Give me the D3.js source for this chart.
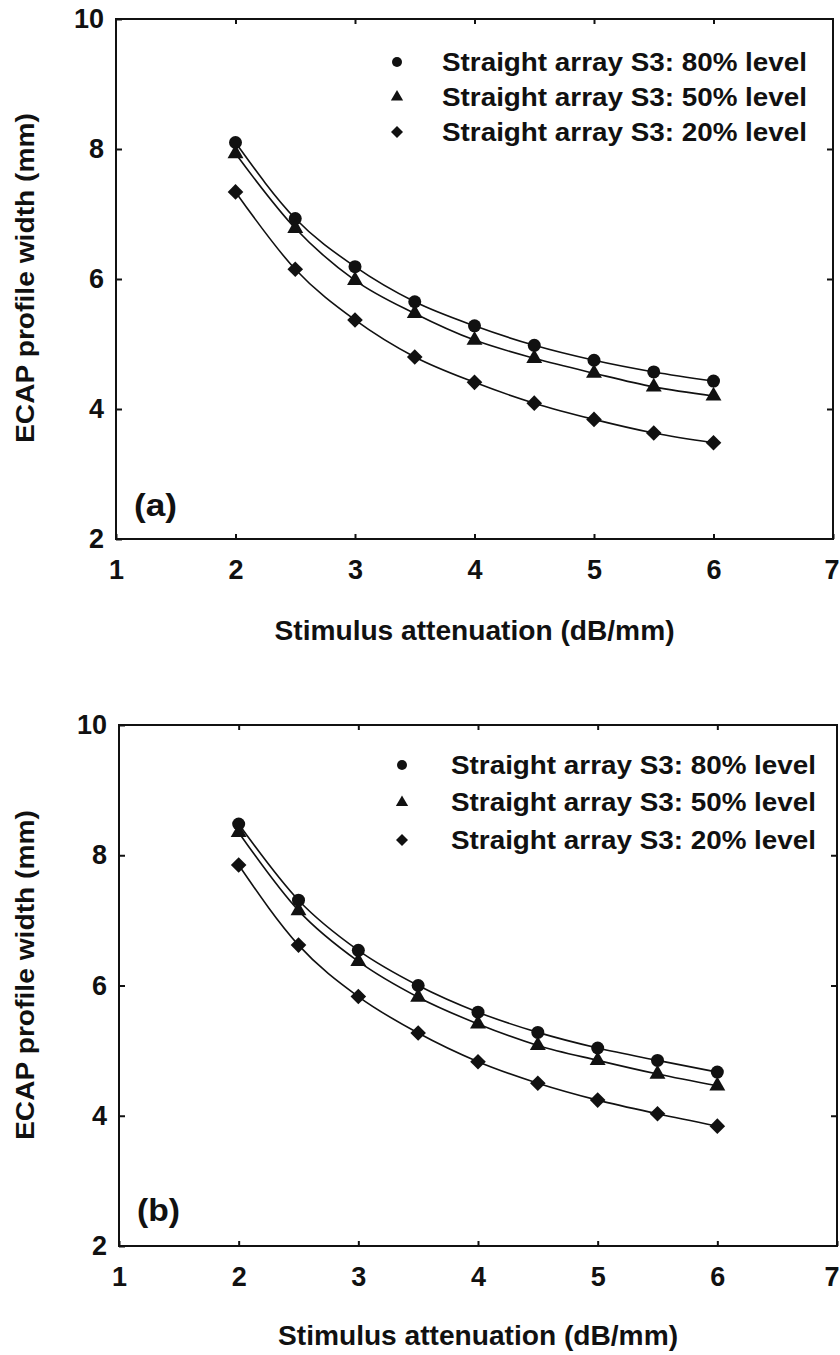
<!DOCTYPE html>
<html>
<head>
<meta charset="utf-8">
<script src="https://cdn.jsdelivr.net/npm/d3@7"></script>
<style>
  html, body { margin: 0; padding: 0; background: #fff; }
  svg { display: block; font-family: "Liberation Sans", Arial, sans-serif; }
  text { font-weight: bold; fill: #111; }
</style>
</head>
<body>
<div id="chart"></div>
<script>
// attenuation values (x)
var attenuation = [2, 2.5, 3, 3.5, 4, 4.5, 5, 5.5, 6];
var seriesNames = ['Straight array S3: 80% level', 'Straight array S3: 50% level', 'Straight array S3: 20% level'];
var seriesSymbols = ['circle', 'triangle', 'diamond'];

// panel (a)
var a80 = [8.10, 6.93, 6.19, 5.65, 5.28, 4.98, 4.75, 4.57, 4.43];
var a50 = [7.93, 6.78, 5.98, 5.47, 5.06, 4.78, 4.55, 4.34, 4.20];
var a20 = [7.34, 6.15, 5.37, 4.80, 4.41, 4.09, 3.84, 3.63, 3.48];

// panel (b)
var b80 = [8.48, 7.31, 6.54, 6.00, 5.59, 5.28, 5.04, 4.85, 4.67];
var b50 = [8.35, 7.15, 6.37, 5.82, 5.41, 5.08, 4.85, 4.64, 4.46];
var b20 = [7.85, 6.62, 5.83, 5.27, 4.83, 4.50, 4.24, 4.03, 3.84];

var xTicks = [1, 2, 3, 4, 5, 6, 7];
var yTicks = [2, 4, 6, 8, 10];
var xLabel = 'Stimulus attenuation (dB/mm)';
var yLabel = 'ECAP profile width (mm)';

var W = 840, H = 1355;

var svg = d3.select('#chart').append('svg')
    .attr('width', W)
    .attr('height', H);

svg.append('rect').attr('width', W).attr('height', H).attr('fill', '#fff');

function symbolPath (name, r) {
    if (name === 'diamond') {
        var d = r * 1.2;
        return 'M0,' + (-d) + 'L' + d + ',0L0,' + d + 'L' + (-d) + ',0Z';
    }
    if (name === 'triangle') {
        return d3.symbol().type(d3.symbolTriangle).size(r * r * 2.6)();
    }
    return d3.symbol().type(d3.symbolCircle).size(Math.PI * r * r)();
}

function drawPanel (p) {
    var x = d3.scaleLinear().domain([1, 7]).range([p.left, p.right]);
    var y = d3.scaleLinear().domain([2, 10]).range([p.bottom, p.top]);
    var g = svg.append('g');

    // frame
    g.append('rect')
        .attr('x', p.left).attr('y', p.top)
        .attr('width', p.right - p.left).attr('height', p.bottom - p.top)
        .attr('fill', 'none').attr('stroke', '#111').attr('stroke-width', 2);

    // axes, ticks pointing inside
    var bottomAx = g.append('g').attr('transform', 'translate(0,' + p.bottom + ')')
        .call(d3.axisBottom(x).tickValues(xTicks).tickFormat(d3.format('d'))
            .tickSizeInner(-5).tickSizeOuter(0).tickPadding(21));
    var topAx = g.append('g').attr('transform', 'translate(0,' + p.top + ')')
        .call(d3.axisTop(x).tickValues(xTicks.slice(1, -1)).tickSizeInner(-5).tickSizeOuter(0).tickFormat(''));
    var leftAx = g.append('g').attr('transform', 'translate(' + p.left + ',0)')
        .call(d3.axisLeft(y).tickValues(yTicks).tickSizeInner(-6).tickSizeOuter(0).tickPadding(12));
    var rightAx = g.append('g').attr('transform', 'translate(' + p.right + ',0)')
        .call(d3.axisRight(y).tickValues(yTicks.slice(1, -1)).tickSizeInner(-6).tickSizeOuter(0).tickFormat(''));

    [bottomAx, topAx, leftAx, rightAx].forEach(function (ax) {
        ax.select('.domain').remove();
        ax.selectAll('line').attr('stroke', '#111').attr('stroke-width', 2);
        ax.selectAll('text').style('font-size', '27px').style('font-family', 'inherit');
    });
    // keep the last label inside the page
    bottomAx.selectAll('.tick').filter(function (d) { return d === 7; }).select('text')
        .attr('text-anchor', 'end').attr('x', W - 1 - x(7));

    // curves + markers
    var line = d3.line()
        .x(function (d) { return x(d[0]); })
        .y(function (d) { return y(d[1]); })
        .curve(d3.curveMonotoneX);

    p.series.forEach(function (vals, i) {
        var pts = attenuation.map(function (a, j) { return [a, vals[j]]; });
        g.append('path')
            .attr('d', line(pts))
            .attr('fill', 'none')
            .attr('stroke', '#111')
            .attr('stroke-width', 1.6);
        g.selectAll('path.m' + i)
            .data(pts)
            .enter()
            .append('path')
            .attr('class', 'm' + i)
            .attr('transform', function (d) { return 'translate(' + x(d[0]) + ',' + y(d[1]) + ')'; })
            .attr('d', symbolPath(seriesSymbols[i], 6.5))
            .attr('fill', '#111');
    });

    // legend
    seriesNames.forEach(function (name, i) {
        var ly = p.legendY + i * p.legendGap;
        g.append('path')
            .attr('transform', 'translate(' + p.legendMarkX + ',' + ly + ')')
            .attr('d', symbolPath(seriesSymbols[i], 5))
            .attr('fill', '#111');
        g.append('text')
            .attr('x', p.legendTextX).attr('y', ly)
            .attr('dy', '0.35em')
            .attr('textLength', 365).attr('lengthAdjust', 'spacingAndGlyphs')
            .style('font-size', '25px')
            .text(name);
    });

    // panel letter
    g.append('text')
        .attr('x', p.left + 18).attr('y', p.letterY)
        .attr('textLength', 43).attr('lengthAdjust', 'spacingAndGlyphs')
        .style('font-size', '31px')
        .text(p.letter);

    // axis titles
    g.append('text')
        .attr('x', (p.left + p.right) / 2).attr('y', p.xLabelY)
        .attr('text-anchor', 'middle')
        .attr('textLength', 400).attr('lengthAdjust', 'spacingAndGlyphs')
        .style('font-size', '27px')
        .text(xLabel);

    g.append('text')
        .attr('transform', 'translate(' + p.yLabelX + ',' + p.yLabelCY + ') rotate(-90)')
        .attr('text-anchor', 'middle')
        .attr('textLength', 330).attr('lengthAdjust', 'spacingAndGlyphs')
        .style('font-size', '26px')
        .text(yLabel);
}

var panels = [
    { letter: '(a)', series: [a80, a50, a20], left: 116, right: 833, top: 19, bottom: 539,
      legendY: 62, legendGap: 35, legendMarkX: 397, legendTextX: 442,
      letterY: 516, xLabelY: 640, yLabelX: 34, yLabelCY: 278 },
    { letter: '(b)', series: [b80, b50, b20], left: 119, right: 837, top: 725, bottom: 1246,
      legendY: 765, legendGap: 37.5, legendMarkX: 402, legendTextX: 451,
      letterY: 1221, xLabelY: 1345, yLabelX: 34, yLabelCY: 975 }
];

panels.forEach(drawPanel);
</script>
</body>
</html>
